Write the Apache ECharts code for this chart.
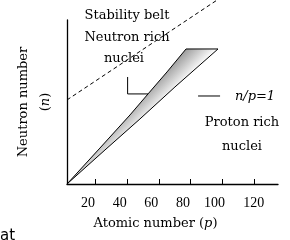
<!DOCTYPE html>
<html>
<head>
<meta charset="utf-8">
<script src="https://cdn.jsdelivr.net/npm/echarts@6/dist/echarts.min.js"></script>
<style>
  html, body { margin: 0; padding: 0; background: #fff; }
  #chart { width: 290px; height: 240px; }
</style>
</head>
<body>
<div id="chart"></div>
<script>
// axis ranges and ticks
var xMin = 2, xMax = 135.3;
var yMin = 2, yMax = 105.6;
var xTicks = [20, 40, 60, 80, 100, 120];

// stability belt edges (p, n)
var upperEdgeX = [2, 22.8, 41.8, 53.2, 65.2, 77.2];
var upperEdgeY = [2, 24.7, 45.6, 58.9, 72.8, 87.3];
var lowerEdgeX = [2, 26.0, 48.1, 70.2, 97.4];
var lowerEdgeY = [2, 23.5, 43.1, 63.3, 87.3];

// dashed guide line
var dashX = [2, 96.8];
var dashY = [55.1, 118.2];

// pointer from "nuclei" label to the belt
var pointerX = [40.3, 40.3, 53.2];
var pointerY = [69.6, 58.9, 58.9];

// short line next to n/p=1
var ratioX = [84.8, 98.7];
var ratioY = [57.6, 57.6];

var FONT = 'DejaVu Serif';
var NUM_FONT = 'Liberation Serif';

function pairs(xs, ys) {
    return xs.map(function (x, i) { return [x, ys[i]]; });
}

var chart = echarts.init(document.getElementById('chart'), null, { renderer: 'canvas' });

var option = {
    animation: false,
    backgroundColor: '#fff',
    grid: { left: 67, right: 12, top: 20, bottom: 56 },
    xAxis: {
        type: 'value',
        min: xMin,
        max: xMax,
        axisLine: { show: true, lineStyle: { color: '#000', width: 1.3 } },
        axisTick: { show: true, inside: true, length: 5, customValues: xTicks, lineStyle: { color: '#000', width: 1 } },
        axisLabel: {
            customValues: xTicks,
            margin: 12,
            formatter: function (v) {
                return v === 120 ? '{b|' + v + '}' : '{a|' + v + '}';
            },
            rich: {
                a: { fontFamily: NUM_FONT, fontSize: 14, color: '#000', padding: [0, 15, 0, 0] },
                b: { fontFamily: NUM_FONT, fontSize: 14, color: '#000' }
            }
        },
        splitLine: { show: false },
        name: '{t|Atomic number (}{i|p}{t|)}',
        nameLocation: 'middle',
        nameGap: 33,
        nameTextStyle: {
            padding: [0, 34, 0, 0],
            rich: {
                t: { fontFamily: FONT, fontSize: 13, color: '#000' },
                i: { fontFamily: FONT, fontSize: 13, color: '#000', fontStyle: 'italic' }
            }
        }
    },
    yAxis: {
        type: 'value',
        min: yMin,
        max: yMax,
        axisLine: { show: true, lineStyle: { color: '#000', width: 1.3 } },
        axisTick: { show: false },
        axisLabel: { show: false },
        splitLine: { show: false },
        name: '{t|Neutron number}\n{t|(}{i|n}{t|)}',
        nameLocation: 'middle',
        nameRotate: 90,
        nameGap: 10,
        nameTextStyle: {
            lineHeight: 22,
            rich: {
                t: { fontFamily: FONT, fontSize: 13, color: '#000', lineHeight: 22 },
                i: { fontFamily: FONT, fontSize: 13, color: '#000', fontStyle: 'italic', lineHeight: 22 }
            }
        }
    },
    series: [
        {
            type: 'custom',
            silent: true,
            data: [[xMin, yMin]],
            renderItem: function (params, api) {
                var upper = upperEdgeX.map(function (x, i) { return api.coord([x, upperEdgeY[i]]); });
                var lower = lowerEdgeX.map(function (x, i) { return api.coord([x, lowerEdgeY[i]]); });
                var pts = upper.slice();
                for (var i = lower.length - 1; i > 0; i--) pts.push(lower[i]);
                // shade across the belt: darker on the neutron-rich side
                var s = pts.map(function (p) { return (p[0] + p[1]) / 2; });
                var s0 = Math.min.apply(null, s), s1 = Math.max.apply(null, s);
                return {
                    type: 'polygon',
                    shape: { points: pts },
                    style: {
                        fill: new echarts.graphic.LinearGradient(s0, s0, s1, s1, [
                            { offset: 0, color: '#9c9c9c' },
                            { offset: 1, color: '#ffffff' }
                        ], true),
                        stroke: '#000',
                        lineWidth: 1
                    }
                };
            }
        },
        {
            type: 'line',
            data: pairs(dashX, dashY),
            symbol: 'none',
            silent: true,
            clip: false,
            lineStyle: { color: '#000', width: 1, type: [4, 3] }
        },
        {
            type: 'line',
            data: pairs(pointerX, pointerY),
            symbol: 'none',
            silent: true,
            lineStyle: { color: '#000', width: 1 }
        },
        {
            type: 'line',
            data: pairs(ratioX, ratioY),
            symbol: 'none',
            silent: true,
            lineStyle: { color: '#000', width: 1 }
        }
    ],
    graphic: [
        { type: 'text', x: 127, y: 16, style: { text: 'Stability belt', font: '13px "' + FONT + '"', fill: '#000', align: 'center', verticalAlign: 'middle' } },
        { type: 'text', x: 127, y: 38, style: { text: 'Neutron rich', font: '13px "' + FONT + '"', fill: '#000', align: 'center', verticalAlign: 'middle' } },
        { type: 'text', x: 124, y: 59, style: { text: 'nuclei', font: '13px "' + FONT + '"', fill: '#000', align: 'center', verticalAlign: 'middle' } },
        { type: 'text', x: 242, y: 123, style: { text: 'Proton rich', font: '13px "' + FONT + '"', fill: '#000', align: 'center', verticalAlign: 'middle' } },
        { type: 'text', x: 242, y: 147, style: { text: 'nuclei', font: '13px "' + FONT + '"', fill: '#000', align: 'center', verticalAlign: 'middle' } },
        { type: 'text', x: 255, y: 97, style: { text: 'n/p=1', font: 'italic 13px "' + FONT + '"', fill: '#000', align: 'center', verticalAlign: 'middle' } },
        { type: 'text', x: 0, y: 244, style: { text: 'at', font: '15px "DejaVu Sans"', fill: '#000', align: 'left', verticalAlign: 'bottom' } }
    ]
};

chart.setOption(option);
</script>
</body>
</html>
